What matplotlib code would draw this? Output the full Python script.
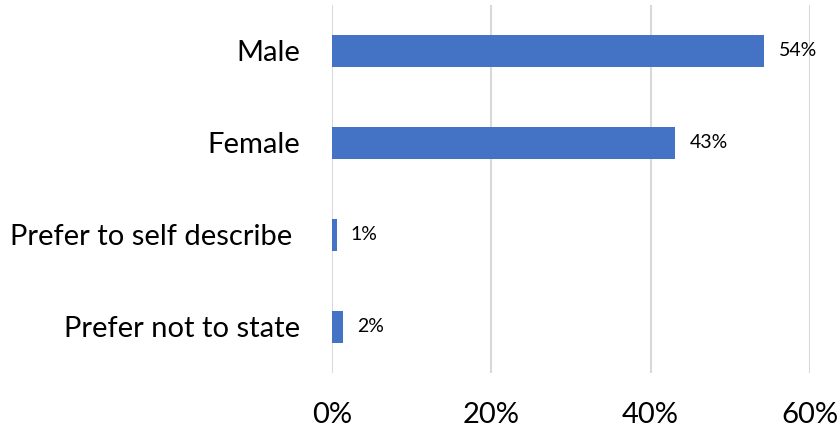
import matplotlib.pyplot as plt
from matplotlib.ticker import PercentFormatter

plt.rcParams['font.family'] = ['Lato', 'DejaVu Sans']

categories = ['Male', 'Female', 'Prefer to self describe ', 'Prefer not to state']
values = [54.3, 43.1, 0.6, 1.4]
value_labels = ['54%', '43%', '1%', '2%']
x_ticks = [0, 20, 40, 60]

fig = plt.figure(figsize=(8.38, 4.30), dpi=100)
ax = fig.add_axes([0.396, 0.1326, 0.5704, 0.8558])

ypos = list(range(len(categories)))
bars = ax.barh(ypos, values, height=0.35, color='#4472c4')
for b, lab in zip(bars, value_labels):
    ax.text(b.get_width() + 1.8, b.get_y() + b.get_height() / 2, lab,
            va='center', ha='left', fontsize=14, color='#000000')

ax.set_xlim(0, 60)
ax.set_ylim(3.5, -0.5)
ax.set_xticks(x_ticks)
ax.xaxis.set_major_formatter(PercentFormatter(decimals=0))
ax.set_yticks(ypos)
ax.set_yticklabels(categories)
ax.tick_params(axis='x', length=0, pad=21, labelsize=21)
ax.tick_params(axis='y', length=0, pad=23, labelsize=21)
ax.grid(axis='x', color='#d9d9d9', linewidth=1.5)
ax.set_axisbelow(True)
for s in ax.spines.values():
    s.set_visible(False)

fig.savefig('out.png', dpi=100)
